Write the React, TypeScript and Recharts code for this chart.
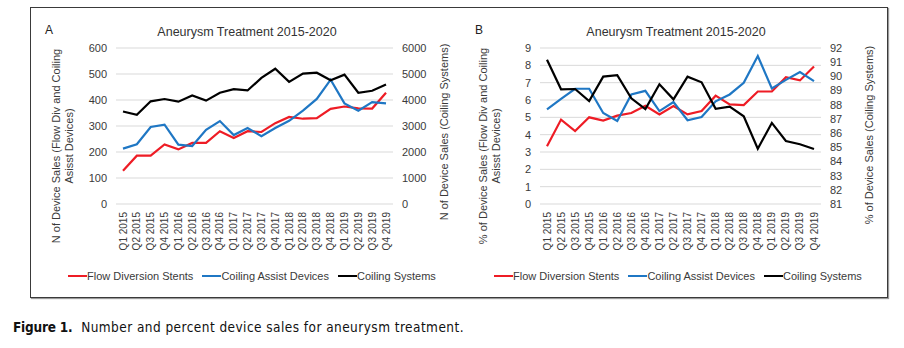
import { LineChart, Line, XAxis, YAxis, CartesianGrid } from 'recharts';

const quarters = [
  'Q1 2015', 'Q2 2015', 'Q3 2015', 'Q4 2015',
  'Q1 2016', 'Q2 2016', 'Q3 2016', 'Q4 2016',
  'Q1 2017', 'Q2 2017', 'Q3 2017', 'Q4 2017',
  'Q1 2018', 'Q2 2018', 'Q3 2018', 'Q4 2018',
  'Q1 2019', 'Q2 2019', 'Q3 2019', 'Q4 2019',
];

// panel A: counts
const flowCount = [128, 186, 186, 229, 210, 235, 235, 280, 254, 280, 277, 311, 335, 328, 330, 366, 375, 368, 367, 428];
const assistCount = [213, 230, 296, 305, 228, 223, 285, 319, 265, 292, 261, 292, 320, 359, 404, 478, 387, 359, 392, 387];
const systemsCount = [3557, 3430, 3949, 4038, 3937, 4177, 3975, 4278, 4418, 4367, 4848, 5203, 4696, 5013, 5051, 4759, 4975, 4278, 4354, 4595];

// panel B: percent
const flowPct = [3.33, 4.87, 4.21, 5.0, 4.81, 5.1, 5.25, 5.67, 5.17, 5.65, 5.17, 5.36, 6.25, 5.75, 5.71, 6.49, 6.49, 7.32, 7.13, 7.93];
const assistPct = [5.46, 6.07, 6.65, 6.65, 5.25, 4.79, 6.32, 6.53, 5.36, 5.88, 4.83, 5.02, 5.92, 6.32, 6.99, 8.54, 6.67, 7.16, 7.61, 7.09];
const systemsPct = [91.17, 89.09, 89.11, 88.26, 89.98, 90.08, 88.45, 87.69, 89.44, 88.38, 89.98, 89.58, 87.71, 87.86, 87.19, 84.9, 86.72, 85.44, 85.21, 84.88];

const countTicks = [0, 100, 200, 300, 400, 500, 600];
const systemsCountTicks = [0, 1000, 2000, 3000, 4000, 5000, 6000];
const pctTicks = [0, 1, 2, 3, 4, 5, 6, 7, 8, 9];
const systemsPctTicks = [81, 82, 83, 84, 85, 86, 87, 88, 89, 90, 91, 92];

const seriesNames = ['Flow Diversion Stents', 'Coiling Assist Devices', 'Coiling Systems'];
const seriesColors = ['#ee1c25', '#1f77c4', '#000000'];

const countData = quarters.map((q, i) => ({ q, flow: flowCount[i], assist: assistCount[i], systems: systemsCount[i] }));
const pctData = quarters.map((q, i) => ({ q, flow: flowPct[i], assist: assistPct[i], systems: systemsPct[i] }));

const FONT = '"Liberation Sans", Arial, sans-serif';
const TEXT = '#3a3a3a';

function QuarterTick({ x, y, payload }: any) {
  return (
    <text
      x={x}
      y={y}
      transform={`rotate(-90 ${x} ${y})`}
      textAnchor="end"
      dominantBaseline="central"
      fontSize={10}
      fill={TEXT}
      fontFamily={FONT}
    >
      {payload.value}
    </text>
  );
}

// rotated axis title, drawn from the axis' own box
function axisTitle(lines: string[], dx: number, dy: number) {
  return (props: any) => {
    const vb = props.viewBox;
    const cx = vb.x + dx;
    const cy = vb.y + vb.height / 2 + dy;
    return (
      <text
        x={cx}
        y={cy}
        transform={`rotate(-90 ${cx} ${cy})`}
        textAnchor="middle"
        dominantBaseline="central"
        fontSize={11}
        fill={TEXT}
        fontFamily={FONT}
      >
        {lines.map((l, i) => (
          <tspan key={i} x={cx} dy={i === 0 ? 0 : 12.5}>{l}</tspan>
        ))}
      </text>
    );
  };
}

const tickStyle = { fontSize: 11, fill: TEXT, fontFamily: FONT };

function Panel({ data, left, leftAxisW, rightAxisW, width, leftDomain, leftTicks, rightDomain, rightTicks, leftTitle, rightTitle, leftTitleX, rightTitleX, rightTitleDy }: any) {
  return (
    <div style={{ position: 'absolute', left, top: 0 }}>
      <LineChart width={width} height={260} data={data} margin={{ top: 48, right: 0, bottom: 0, left: 0 }}>
        <CartesianGrid vertical={false} stroke="#d9d9d9" yAxisId="left" />
        <XAxis
          dataKey="q"
          interval={0}
          height={56}
          padding={{ left: 7, right: 7 }}
          axisLine={false}
          tickLine={false}
          tickSize={0}
          tickMargin={8}
          tick={<QuarterTick />}
        />
        <YAxis
          yAxisId="left"
          orientation="left"
          width={leftAxisW}
          domain={leftDomain}
          ticks={leftTicks}
          interval={0}
          axisLine={false}
          tickLine={false}
          tickSize={0}
          tickMargin={9}
          tick={tickStyle}
          label={axisTitle(leftTitle, leftTitleX, 20)}
        />
        <YAxis
          yAxisId="right"
          orientation="right"
          width={rightAxisW}
          domain={rightDomain}
          ticks={rightTicks}
          interval={0}
          axisLine={false}
          tickLine={false}
          tickSize={0}
          tickMargin={9}
          tick={{ ...tickStyle, textAnchor: 'start' }}
          label={axisTitle(rightTitle, rightTitleX, rightTitleDy)}
        />
        <Line yAxisId="left" type="linear" dataKey="flow" name={seriesNames[0]} stroke={seriesColors[0]} strokeWidth={2.2} dot={false} isAnimationActive={false} />
        <Line yAxisId="left" type="linear" dataKey="assist" name={seriesNames[1]} stroke={seriesColors[1]} strokeWidth={2.2} dot={false} isAnimationActive={false} />
        <Line yAxisId="right" type="linear" dataKey="systems" name={seriesNames[2]} stroke={seriesColors[2]} strokeWidth={2.2} dot={false} isAnimationActive={false} />
      </LineChart>
    </div>
  );
}

function LegendRow({ left }: { left: number }) {
  return (
    <div style={{ position: 'absolute', left, top: 268, display: 'flex', alignItems: 'center', fontSize: 11, fontFamily: FONT, color: TEXT, lineHeight: '16px', whiteSpace: 'nowrap' }}>
      {seriesNames.map((n, i) => (
        <div key={n} style={{ display: 'flex', alignItems: 'center', marginRight: 9 }}>
          <span style={{ display: 'inline-block', width: 19, height: 2, background: seriesColors[i] }} />
          <span>{n}</span>
        </div>
      ))}
    </div>
  );
}

const panelTitle = 'Aneurysm Treatment 2015-2020';

export default function App() {
  return (
    <div style={{ position: 'absolute', left: 0, top: 0, width: 904, height: 348, background: '#fff', overflow: 'hidden' }}>
      <div style={{ position: 'absolute', left: 30, top: 7, width: 858, height: 291, boxSizing: 'border-box', border: '1px solid #3a3a3a', boxShadow: '1px 1px 1px #9a9a9a' }} />

      <div style={{ position: 'absolute', left: 45, top: 23, fontSize: 12, lineHeight: '14px', fontFamily: FONT, color: '#222' }}>A</div>
      <div style={{ position: 'absolute', left: 475, top: 23, fontSize: 12, lineHeight: '14px', fontFamily: FONT, color: '#222' }}>B</div>
      <div style={{ position: 'absolute', left: 117, top: 24, width: 260, textAlign: 'center', fontSize: 12.5, lineHeight: '16px', fontFamily: FONT, color: '#333' }}>{panelTitle}</div>
      <div style={{ position: 'absolute', left: 546, top: 24, width: 260, textAlign: 'center', fontSize: 12.5, lineHeight: '16px', fontFamily: FONT, color: '#333' }}>{panelTitle}</div>

      <Panel
        data={countData}
        left={0}
        width={460}
        leftAxisW={116}
        rightAxisW={67}
        leftDomain={[0, 600]}
        leftTicks={countTicks}
        rightDomain={[0, 6000]}
        rightTicks={systemsCountTicks}
        leftTitle={['N of Device Sales (Flow Div and Coiling', 'Asisst Devices)']}
        rightTitle={['N of Device Sales (Coiling Systems)']}
        leftTitleX={56}
        rightTitleX={51}
        rightTitleDy={6}
      />
      <Panel
        data={pctData}
        left={460}
        width={430}
        leftAxisW={80}
        rightAxisW={69}
        leftDomain={[0, 9]}
        leftTicks={pctTicks}
        rightDomain={[81, 92]}
        rightTicks={systemsPctTicks}
        leftTitle={['% of Device Sales (Flow Div and Coiling', 'Asisst Devices)']}
        rightTitle={['% of Device Sales (Coiling Systems)']}
        leftTitleX={23}
        rightTitleX={48}
        rightTitleDy={9}
      />

      <LegendRow left={68} />
      <LegendRow left={494} />

      <div style={{ position: 'absolute', left: 13, top: 318, fontSize: 13.5, lineHeight: '18px', fontFamily: '"DejaVu Sans Condensed", "Liberation Sans Narrow", sans-serif', color: '#111', whiteSpace: 'nowrap' }}>
        <b style={{ letterSpacing: -0.2 }}>Figure 1.</b>
        <span style={{ letterSpacing: 0.45 }}>&nbsp; Number and percent device sales for aneurysm treatment.</span>
      </div>
    </div>
  );
}
